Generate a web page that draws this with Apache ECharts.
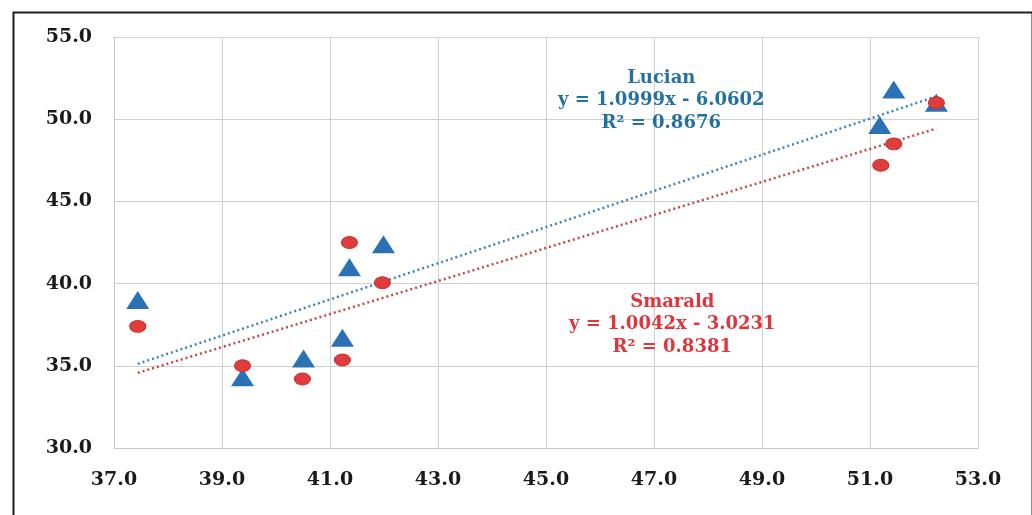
<!DOCTYPE html>
<html>
<head>
<meta charset="utf-8">
<script src="https://cdn.jsdelivr.net/npm/echarts@6/dist/echarts.min.js"></script>
<style>
html,body{margin:0;padding:0;background:#fff;}
#chart{width:1032px;height:515px;}
</style>
</head>
<body>
<div id="chart"></div>
<script>
// points, [x, y]
var lucian = [[37.44, 39.0], [39.38, 34.3], [40.51, 35.45], [41.23, 36.7], [41.36, 41.0],
	[41.99, 42.4], [51.18, 49.65], [51.44, 51.8], [52.23, 51.0]];
var smarald = [[37.44, 37.4], [39.38, 35.0], [40.49, 34.2], [41.23, 35.35], [41.36, 42.5],
	[41.97, 40.05], [51.2, 47.2], [51.44, 48.5], [52.23, 51.0]];
// trend line end points
var lucianTrend = [[37.44, 35.12], [52.23, 51.39]];
var smaraldTrend = [[37.44, 34.57], [52.23, 49.43]];
var lucianText = ['Lucian', 'y = 1.0999x - 6.0602', 'R\u00b2 = 0.8676'];
var smaraldText = ['Smarald', 'y = 1.0042x - 3.0231', 'R\u00b2 = 0.8381'];

var blue = '#2a72b5', red = '#e03c3c';
var labelFont = {fontFamily: 'DejaVu Serif', fontWeight: 'bold', fontSize: 19, color: '#1a1a1a'};

function fmt(v){ return v.toFixed(1) }

var option = {
	backgroundColor: '#fff',
	animation: false,
	grid: {left: 114, right: 54, top: 37, bottom: 67},
	xAxis: {
		type: 'value', min: 37, max: 53, interval: 2,
		axisLine: {lineStyle: {color: '#c8c8c8'}},
		axisTick: {show: false},
		splitLine: {lineStyle: {color: '#d0d0d0'}},
		axisLabel: Object.assign({margin: 23, formatter: fmt}, labelFont)
	},
	yAxis: {
		type: 'value', min: 30, max: 55, interval: 5,
		axisLine: {show: true, lineStyle: {color: '#c8c8c8'}},
		axisTick: {show: false},
		splitLine: {lineStyle: {color: '#d0d0d0'}},
		axisLabel: Object.assign({margin: 22, formatter: fmt}, labelFont)
	},
	series: [
		{
			name: 'Lucian trend', type: 'line', data: lucianTrend, symbol: 'none',
			lineStyle: {color: '#3d86b4', width: 2.5, type: [2, 3]}, z: 2
		},
		{
			name: 'Smarald trend', type: 'line', data: smaraldTrend, symbol: 'none',
			lineStyle: {color: '#c8474a', width: 2.5, type: [2, 3]}, z: 2
		},
		{
			name: 'Lucian', type: 'scatter', data: lucian, symbol: 'triangle', symbolSize: [23, 18],
			itemStyle: {color: blue, opacity: 1}, z: 3
		},
		{
			name: 'Smarald', type: 'scatter', data: smarald, symbol: 'circle', symbolSize: [16, 12],
			itemStyle: {color: red, borderColor: '#c83030', borderWidth: 1, opacity: 1}, z: 4
		}
	],
	graphic: [
		{
			type: 'rect', left: 11, top: 10, z: 10, silent: true,
			shape: {width: 1019, height: 530},
			style: {fill: 'none', stroke: '#1e1e1e', lineWidth: 2}
		},
		{
			type: 'text', left: 558, top: 67, z: 10,
			style: {
				text: lucianText.join('\n'), textAlign: 'center',
				fill: '#2371a0', font: 'bold 18px "DejaVu Serif"', lineHeight: 22.5
			}
		},
		{
			type: 'text', left: 569, top: 291, z: 10,
			style: {
				text: smaraldText.join('\n'), textAlign: 'center',
				fill: '#e0353b', font: 'bold 18px "DejaVu Serif"', lineHeight: 22.5
			}
		}
	]
};

var myChart = echarts.init(document.getElementById('chart'));
myChart.setOption(option);
</script>
</body>
</html>
